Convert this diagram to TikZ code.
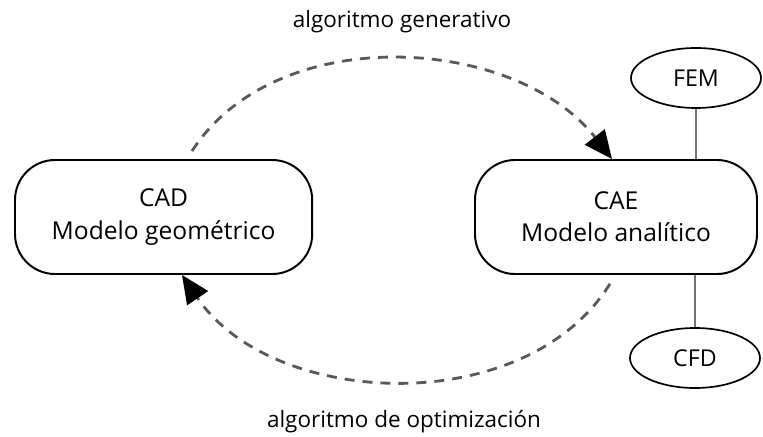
\documentclass[tikz,border=0pt]{standalone}
\usepackage{fontspec}
\setmainfont{Open Sans}
\usepackage{tikz}
\usetikzlibrary{arrows.meta,positioning,calc,shapes}

\begin{document}
\begin{tikzpicture}[
    box/.style={draw=black,line width=1.4pt,rounded corners=1cm,align=center,
      minimum height=2.85cm,font=\fontsize{17.5}{23}\selectfont},
    elli/.style={draw=black,line width=1.2pt,ellipse,minimum width=3.25cm,
      minimum height=1.5cm,inner sep=0pt,font=\fontsize{16.5}{18}\selectfont},
    flow/.style={draw=black!65,line width=2pt,dash pattern=on 0.25cm off 0.2cm,
      -{Triangle[length=0.7cm,width=0.62cm,fill=black,color=black]}},
    link/.style={draw=black!55,line width=1.3pt},
    lbl/.style={font=\fontsize{16}{18}\selectfont}]
  \useasboundingbox (0,0) rectangle (19.075,10.9);
  \node [box,minimum width=7.43cm] (cad) at (4.09,5.475) {CAD\\Modelo geométrico};
  \node [box,minimum width=7.05cm] (cae) at (15.4,5.475) {CAE\\Modelo analítico};
  \node [elli] (fem) at (17.4,8.95) {FEM};
  \node [elli] (cfd) at (17.375,1.95) {CFD};
  \node [lbl] (gen) at (10.05,10.35) {algoritmo generativo};
  \node [lbl] (opt) at (10.1,0.35) {algoritmo de optimización};
  % links to the solvers
  \draw [link] (fem.south) -- (fem.south |- cae.north);
  \draw [link] (cae.south -| cfd.north) -- (cfd.north);
  % the two loops
  \draw [flow] ($ (cad.north) + (0.71,0.2) $) to[out=57,in=128,looseness=0.95]
          ($ (cae.north) + (-0.1,0) $);
  \draw [flow] ($ (cae.south) + (-0.15,-0.22) $) to[out=238,in=304,looseness=0.96]
          ($ (cad.south) + (0.46,0) $);
\end{tikzpicture}
\end{document}
